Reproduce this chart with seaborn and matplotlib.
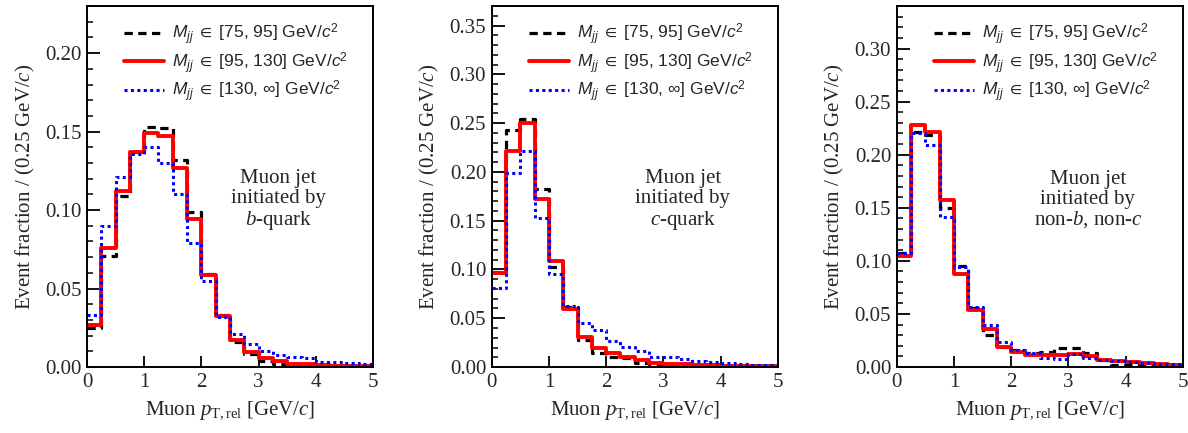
import numpy as np
import pandas as pd
import matplotlib
matplotlib.use("Agg")
import matplotlib.pyplot as plt
from matplotlib.lines import Line2D
from matplotlib.ticker import MultipleLocator, FormatStrFormatter
import seaborn as sns

# ---------------- data ----------------
bin_width = 0.25
x_max = 5.0

series_labels = [
    r"$\mathcal{M}_{\mathcal{jj}}$ $\in$ [75, 95] GeV/$\mathcal{c}^{\mathsf{2}}$",
    r"$\mathcal{M}_{\mathcal{jj}}$ $\in$ [95, 130] GeV/$\mathcal{c}^{\mathsf{2}}$",
    r"$\mathcal{M}_{\mathcal{jj}}$ $\in$ [130, ∞] GeV/$\mathcal{c}^{\mathsf{2}}$",
]

panel_titles = [
    "Muon jet\ninitiated by\n$b$-quark",
    "Muon jet\ninitiated by\n$c$-quark",
    "Muon jet\ninitiated by\nnon-$b$, non-$c$",
]
panel_ymax = [0.23, 0.37, 0.34]

# b-quark panel
b_m75 = [0.025, 0.071, 0.109, 0.137, 0.153, 0.152, 0.132, 0.099, 0.059, 0.033,
         0.016, 0.008, 0.004, 0.002, 0.0008, 0.0006, 0.0005, 0.0004, 0.0003, 0.0003]
b_m95 = [0.0265, 0.0757, 0.112, 0.137, 0.149, 0.147, 0.127, 0.094, 0.0587, 0.0323,
         0.017, 0.0098, 0.0058, 0.0040, 0.0022, 0.0017, 0.0011, 0.0008, 0.0006, 0.0005]
b_m130 = [0.033, 0.090, 0.121, 0.1355, 0.140, 0.130, 0.110, 0.079, 0.0547, 0.032,
          0.021, 0.0147, 0.0105, 0.0078, 0.0066, 0.0057, 0.0034, 0.0029, 0.0026, 0.0018]

# c-quark panel
c_m75 = [0.097, 0.2426, 0.254, 0.1826, 0.103, 0.0618, 0.0275, 0.0144, 0.010, 0.009,
         0.0038, 0.0024, 0.0012, 0.0010, 0.0008, 0.0007, 0.0006, 0.0005, 0.0004, 0.0004]
c_m95 = [0.096, 0.2213, 0.250, 0.172, 0.109, 0.059, 0.031, 0.0196, 0.0144, 0.0103,
         0.0069, 0.0040, 0.0034, 0.0034, 0.0020, 0.0018, 0.0010, 0.0009, 0.0008, 0.0007]
c_m130 = [0.0806, 0.199, 0.221, 0.1527, 0.0954, 0.063, 0.045, 0.0377, 0.0264, 0.0206,
          0.0168, 0.0103, 0.0103, 0.0082, 0.0058, 0.0048, 0.0040, 0.0027, 0.0020, 0.0017]

# non-b, non-c panel
l_m75 = [0.1075, 0.221, 0.219, 0.150, 0.095, 0.0556, 0.030, 0.019, 0.0157, 0.013,
         0.014, 0.018, 0.018, 0.013, 0.0063, 0.0016, 0.0016, 0.002, 0.001, 0.0008]
l_m95 = [0.105, 0.2275, 0.221, 0.157, 0.0877, 0.054, 0.0355, 0.019, 0.014, 0.011,
         0.011, 0.011, 0.012, 0.010, 0.007, 0.0055, 0.0045, 0.0035, 0.0025, 0.0016]
l_m130 = [0.1075, 0.2205, 0.2095, 0.1414, 0.094, 0.0565, 0.040, 0.0236, 0.0163, 0.013,
          0.0088, 0.0079, 0.012, 0.0088, 0.007, 0.0057, 0.0044, 0.0038, 0.0031, 0.0028]

panels = [(b_m75, b_m95, b_m130), (c_m75, c_m95, c_m130), (l_m75, l_m95, l_m130)]

# ---------------- style ----------------
sns.set_style("white")
plt.rcParams.update({
    "font.family": ["Liberation Serif", "DejaVu Serif"],
    "mathtext.fontset": "custom",
    "mathtext.rm": "Liberation Serif",
    "mathtext.it": "Liberation Serif:italic",
    "mathtext.sf": "Liberation Sans",
    "mathtext.cal": "Liberation Sans:italic",
    "mathtext.fallback": "stixsans",
    "axes.linewidth": 1.4,
    "axes.edgecolor": "black",
})

styles = [
    dict(color="black", linestyle=(0, (2.6, 1.7)), linewidth=2.3),
    dict(color="#ff0000", linestyle="-", linewidth=2.8),
    dict(color="#0000ff", linestyle=(0, (1.0, 1.1)), linewidth=2.2),
]

n_bins = int(round(x_max / bin_width))
centers = (np.arange(n_bins) + 0.5) * bin_width

fig = plt.figure(figsize=(11.88, 4.33), dpi=100)
lefts = [0.0732, 0.4139, 0.7548]
ax_w, ax_b, ax_h = 0.2408, 0.1524, 0.8336

for i, (vals, title, ymax) in enumerate(zip(panels, panel_titles, panel_ymax)):
    ax = fig.add_axes([lefts[i], ax_b, ax_w, ax_h])
    handles = []
    for v, st, lab in zip(vals, styles, series_labels):
        df = pd.DataFrame({"pt": centers, "frac": v})
        sns.histplot(data=df, x="pt", weights="frac", bins=n_bins,
                     binrange=(0, x_max), element="step",
                     fill=False, ax=ax, color=st["color"],
                     linestyle=st["linestyle"], linewidth=st["linewidth"])
        handles.append(Line2D([], [], **st))
    ax.set_xlim(0, x_max)
    ax.set_ylim(0, ymax)
    ax.xaxis.set_major_locator(MultipleLocator(1))
    ax.yaxis.set_major_locator(MultipleLocator(0.05))
    ax.yaxis.set_minor_locator(MultipleLocator(0.01))
    ax.yaxis.set_major_formatter(FormatStrFormatter("%.2f"))
    ax.tick_params(axis="both", which="both", direction="in", top=False, right=False,
                   bottom=True, left=True, labelsize=15, pad=4, color="black")
    ax.tick_params(axis="y", which="major", length=9, width=1.3)
    ax.tick_params(axis="y", which="minor", length=4.5, width=1.1)
    ax.tick_params(axis="x", which="major", length=8, width=1.3)
    ax.tick_params(axis="x", which="minor", bottom=False)
    for s in ax.spines.values():
        s.set_visible(True)
        s.set_linewidth(1.4)
    ax.set_xlabel(r"Muon $p_{\mathrm{T,rel}}$ [GeV/$c$]", fontsize=15, labelpad=6)
    ax.set_ylabel(r"Event fraction / (0.25 GeV/$c$)", fontsize=15, labelpad=6)
    ax.text(0.668, 0.462, title, transform=ax.transAxes, ha="center", va="center",
            fontsize=15, linespacing=1.05)
    leg = ax.legend(handles=handles, labels=series_labels, loc="upper left",
                    bbox_to_anchor=(0.131, 0.958), frameon=False, borderpad=0,
                    borderaxespad=0, handlelength=2.3, handletextpad=0.46,
                    labelspacing=0.19, prop={"family": "Liberation Sans", "size": 12.5})

fig.savefig("out.png", dpi=100)
